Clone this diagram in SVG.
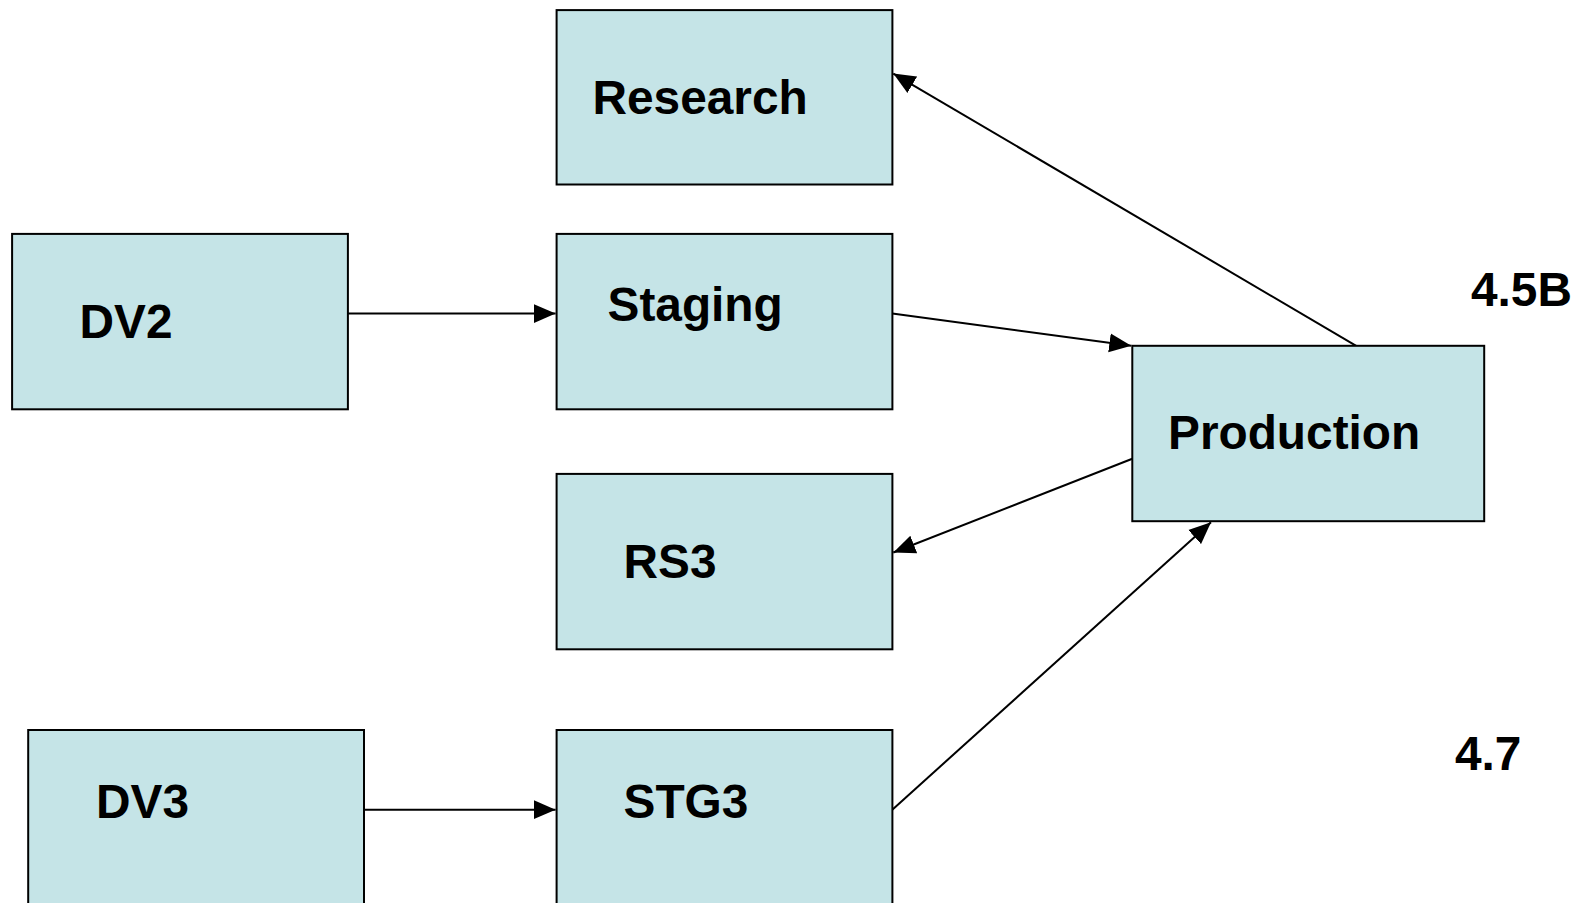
<svg xmlns="http://www.w3.org/2000/svg" width="1581" height="903" viewBox="0 0 1581 903">
<style>
.box{fill:#C5E4E7;stroke:#000;stroke-width:2}
.lbl{font-family:"Liberation Sans",Arial,sans-serif;font-weight:bold;font-size:47.8px;fill:#000}
.con{stroke:#000;stroke-width:2;fill:none;marker-end:url(#ah)}
</style>
<defs>
<marker id="ah" markerUnits="userSpaceOnUse" markerWidth="23" markerHeight="20" refX="22" refY="10" orient="auto" viewBox="0 0 23 20">
<path d="M0,0.5 L22,10 L0,19.5 Z" fill="#000"/>
</marker>
</defs>
<rect width="1581" height="903" fill="#fff"/>
<g id="connectors">
<line class="con" x1="1356.2" y1="345.8" x2="893.3" y2="73.6"/>
<line class="con" x1="892.3" y1="313.6" x2="1131.3" y2="345.8"/>
<line class="con" x1="1132.3" y1="458.8" x2="893.3" y2="552.5"/>
<line class="con" x1="892.3" y1="809.7" x2="1211" y2="522.3"/>
<line class="con" x1="347.9" y1="313.6" x2="555.6" y2="313.6"/>
<line class="con" x1="364" y1="809.7" x2="555.6" y2="809.7"/>
</g>
<g id="research"><rect class="box" x="556.6" y="10.1" width="335.8" height="174.4"/><text class="lbl" x="592.5" y="113.5">Research</text></g>
<g id="dv2"><rect class="box" x="12.1" y="233.9" width="335.8" height="175.4"/><text class="lbl" x="79.5" y="338">DV2</text></g>
<g id="staging"><rect class="box" x="556.6" y="233.9" width="335.8" height="175.4"/><text class="lbl" x="607.5" y="321">Staging</text></g>
<g id="production"><rect class="box" x="1132.3" y="345.8" width="351.9" height="175.4"/><text class="lbl" x="1168" y="449">Production</text></g>
<g id="rs3"><rect class="box" x="556.6" y="473.9" width="335.8" height="175.4"/><text class="lbl" x="623.5" y="578">RS3</text></g>
<g id="dv3"><rect class="box" x="28.2" y="730" width="335.8" height="190"/><text class="lbl" x="96" y="818">DV3</text></g>
<g id="stg3"><rect class="box" x="556.6" y="730" width="335.8" height="190"/><text class="lbl" x="623.5" y="818">STG3</text></g>
<g id="label-45b"><text class="lbl" x="1471" y="306">4.5B</text></g>
<g id="label-47"><text class="lbl" x="1455" y="769.5">4.7</text></g>
</svg>
